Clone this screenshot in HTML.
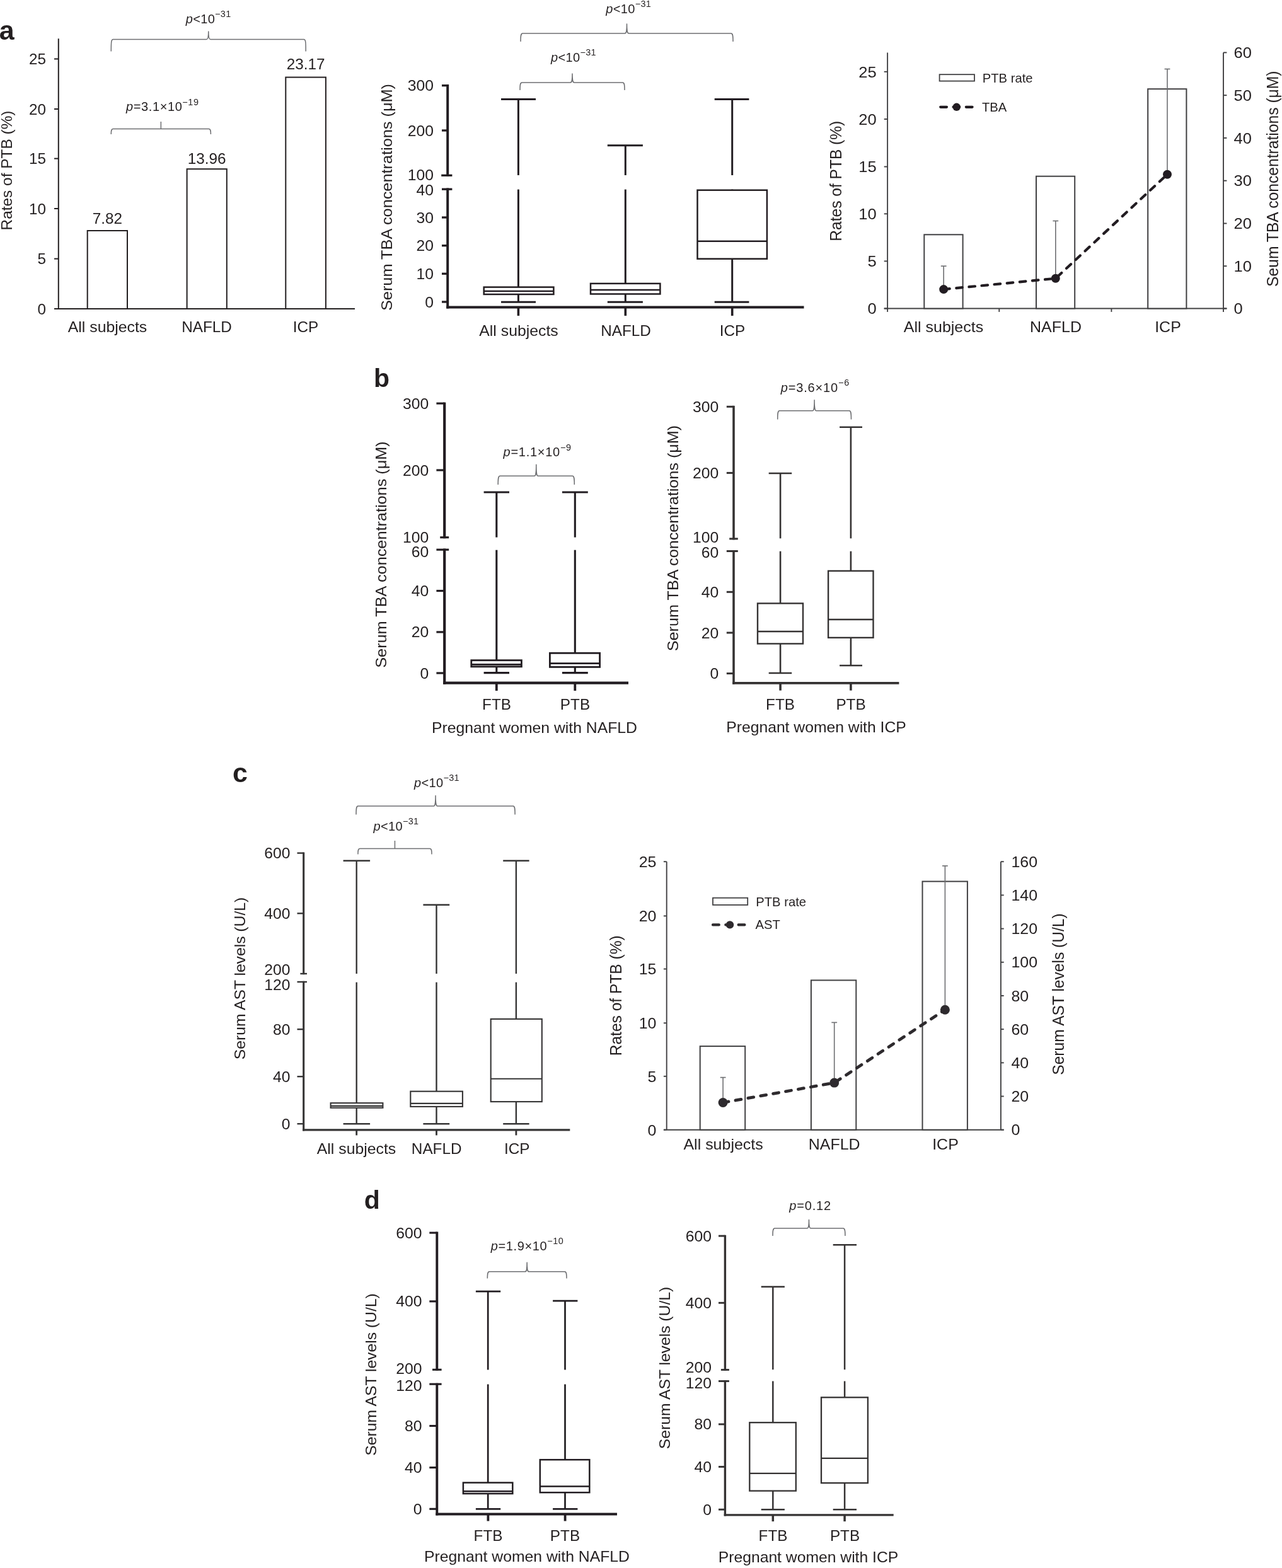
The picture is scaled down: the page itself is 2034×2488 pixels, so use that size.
<!DOCTYPE html>
<html lang="en">
<head>
<meta charset="utf-8">
<title>Figure</title>
<style>
html,body{margin:0;padding:0;background:#fff;}
body{width:2034px;height:2488px;overflow:hidden;}
svg{display:block;font-family:"Liberation Sans", sans-serif;}
</style>
</head>
<body>
<svg width="2034" height="2488" viewBox="0 0 2034 2488">
<defs><filter id="soft" x="0" y="0" width="2034" height="2488" filterUnits="userSpaceOnUse"><feGaussianBlur stdDeviation="0.45"/></filter></defs>
<text x="-1.3" y="62.5" font-size="43" text-anchor="start" font-weight="bold" font-style="normal" fill="#231f20">a</text>
<text x="593" y="613.7" font-size="41" text-anchor="start" font-weight="bold" font-style="normal" fill="#231f20">b</text>
<text x="369" y="1241.3" font-size="43" text-anchor="start" font-weight="bold" font-style="normal" fill="#231f20">c</text>
<text x="577.8" y="1917.7" font-size="41" text-anchor="start" font-weight="bold" font-style="normal" fill="#231f20">d</text>
<line x1="92.8" y1="61.3" x2="92.8" y2="491" stroke="#231f20" stroke-width="2" stroke-linecap="butt" />
<line x1="86" y1="490" x2="563" y2="490" stroke="#231f20" stroke-width="2" stroke-linecap="butt" />
<line x1="86" y1="93.5" x2="92.8" y2="93.5" stroke="#231f20" stroke-width="2" stroke-linecap="butt" />
<text x="73" y="102" font-size="24" text-anchor="end" font-weight="normal" font-style="normal" fill="#231f20" textLength="27.02" lengthAdjust="spacingAndGlyphs">25</text>
<line x1="86" y1="173" x2="92.8" y2="173" stroke="#231f20" stroke-width="2" stroke-linecap="butt" />
<text x="73" y="181.5" font-size="24" text-anchor="end" font-weight="normal" font-style="normal" fill="#231f20" textLength="27.02" lengthAdjust="spacingAndGlyphs">20</text>
<line x1="86" y1="251.6" x2="92.8" y2="251.6" stroke="#231f20" stroke-width="2" stroke-linecap="butt" />
<text x="73" y="260.1" font-size="24" text-anchor="end" font-weight="normal" font-style="normal" fill="#231f20" textLength="27.02" lengthAdjust="spacingAndGlyphs">15</text>
<line x1="86" y1="331" x2="92.8" y2="331" stroke="#231f20" stroke-width="2" stroke-linecap="butt" />
<text x="73" y="339.5" font-size="24" text-anchor="end" font-weight="normal" font-style="normal" fill="#231f20" textLength="27.02" lengthAdjust="spacingAndGlyphs">10</text>
<line x1="86" y1="410.6" x2="92.8" y2="410.6" stroke="#231f20" stroke-width="2" stroke-linecap="butt" />
<text x="73" y="419.1" font-size="24" text-anchor="end" font-weight="normal" font-style="normal" fill="#231f20" textLength="13.51" lengthAdjust="spacingAndGlyphs">5</text>
<line x1="86" y1="490" x2="92.8" y2="490" stroke="#231f20" stroke-width="2" stroke-linecap="butt" />
<text x="73" y="498.5" font-size="24" text-anchor="end" font-weight="normal" font-style="normal" fill="#231f20" textLength="13.51" lengthAdjust="spacingAndGlyphs">0</text>
<rect x="138.7" y="366" width="63.3" height="124" fill="none" stroke="#231f20" stroke-width="2"/>
<text x="170.35" y="354.6" font-size="24" text-anchor="middle" font-weight="normal" font-style="normal" fill="#231f20" textLength="47.27" lengthAdjust="spacingAndGlyphs">7.82</text>
<rect x="296.6" y="268.2" width="63.2" height="221.8" fill="none" stroke="#231f20" stroke-width="2"/>
<text x="328.2" y="260.3" font-size="24" text-anchor="middle" font-weight="normal" font-style="normal" fill="#231f20" textLength="60.78" lengthAdjust="spacingAndGlyphs">13.96</text>
<rect x="453.3" y="122.6" width="63.6" height="367.4" fill="none" stroke="#231f20" stroke-width="2"/>
<text x="485.1" y="109.7" font-size="24" text-anchor="middle" font-weight="normal" font-style="normal" fill="#231f20" textLength="60.78" lengthAdjust="spacingAndGlyphs">23.17</text>
<text x="170.5" y="526.8" font-size="24" text-anchor="middle" font-weight="normal" font-style="normal" fill="#231f20" textLength="125.39" lengthAdjust="spacingAndGlyphs">All subjects</text>
<text x="328" y="526.8" font-size="24" text-anchor="middle" font-weight="normal" font-style="normal" fill="#231f20" textLength="79.63" lengthAdjust="spacingAndGlyphs">NAFLD</text>
<text x="485" y="526.8" font-size="24" text-anchor="middle" font-weight="normal" font-style="normal" fill="#231f20" textLength="40.49" lengthAdjust="spacingAndGlyphs">ICP</text>
<text x="18.5" y="270.5" font-size="24" text-anchor="middle" font-weight="normal" font-style="normal" fill="#231f20" transform="rotate(-90 18.5 270.5)" textLength="190" lengthAdjust="spacingAndGlyphs">Rates of PTB (%)</text>
<path d="M176.3,81.5 C176.3,66.6 176.6,62.6 179.3,62.6 L327.75,62.6 C330.15,62.6 330.75,58.6 330.75,50.1 C330.75,58.6 331.35,62.6 333.75,62.6 L482.2,62.6 C484.9,62.6 485.2,66.6 485.2,81.5" fill="none" stroke="#6d6e71" stroke-width="1.5" stroke-linecap="butt" stroke-linejoin="round"/>
<text x="294.7" y="36.9" font-size="20" fill="#231f20" textLength="71.5" lengthAdjust="spacing"><tspan font-style="italic">p</tspan>&lt;10<tspan font-size="14.4" dy="-9.6">−31</tspan></text>
<path d="M176.3,213 C176.3,207.5 176.6,204.5 179.3,204.5 L331.4,204.5 C334.1,204.5 334.4,207.5 334.4,213 M255.35,204.5 L255.35,193" fill="none" stroke="#6d6e71" stroke-width="1.5" stroke-linecap="butt" stroke-linejoin="round"/>
<text x="200" y="176.3" font-size="20" fill="#231f20" textLength="115" lengthAdjust="spacing"><tspan font-style="italic">p</tspan>=3.1×10<tspan font-size="14.4" dy="-9.6">−19</tspan></text>
<text x="688" y="144.2" font-size="23.6" text-anchor="end" font-weight="normal" font-style="normal" fill="#231f20" textLength="41.25" lengthAdjust="spacingAndGlyphs">300</text>
<text x="688" y="215.5" font-size="23.6" text-anchor="end" font-weight="normal" font-style="normal" fill="#231f20" textLength="41.25" lengthAdjust="spacingAndGlyphs">200</text>
<text x="688" y="285.9" font-size="23.6" text-anchor="end" font-weight="normal" font-style="normal" fill="#231f20" textLength="41.25" lengthAdjust="spacingAndGlyphs">100</text>
<text x="688" y="309.7" font-size="23.6" text-anchor="end" font-weight="normal" font-style="normal" fill="#231f20" textLength="27.5" lengthAdjust="spacingAndGlyphs">40</text>
<text x="688" y="353.5" font-size="23.6" text-anchor="end" font-weight="normal" font-style="normal" fill="#231f20" textLength="27.5" lengthAdjust="spacingAndGlyphs">30</text>
<text x="688" y="398.2" font-size="23.6" text-anchor="end" font-weight="normal" font-style="normal" fill="#231f20" textLength="27.5" lengthAdjust="spacingAndGlyphs">20</text>
<text x="688" y="442.8" font-size="23.6" text-anchor="end" font-weight="normal" font-style="normal" fill="#231f20" textLength="27.5" lengthAdjust="spacingAndGlyphs">10</text>
<text x="688" y="487.5" font-size="23.6" text-anchor="end" font-weight="normal" font-style="normal" fill="#231f20" textLength="13.75" lengthAdjust="spacingAndGlyphs">0</text>
<text x="823" y="533" font-size="24" text-anchor="middle" font-weight="normal" font-style="normal" fill="#231f20" textLength="125.39" lengthAdjust="spacingAndGlyphs">All subjects</text>
<text x="993" y="533" font-size="24" text-anchor="middle" font-weight="normal" font-style="normal" fill="#231f20" textLength="79.63" lengthAdjust="spacingAndGlyphs">NAFLD</text>
<text x="1162" y="533" font-size="24" text-anchor="middle" font-weight="normal" font-style="normal" fill="#231f20" textLength="40.49" lengthAdjust="spacingAndGlyphs">ICP</text>
<text x="622.2" y="313" font-size="24" text-anchor="middle" font-weight="normal" font-style="normal" fill="#231f20" transform="rotate(-90 622.2 313)" textLength="360" lengthAdjust="spacingAndGlyphs">Serum TBA concentrations (μM)</text>
<path d="M826,66 C826,57 826.3,53 829,53 L991.5,53 C993.9,53 994.5,49 994.5,38 C994.5,49 995.1,53 997.5,53 L1160,53 C1162.7,53 1163,57 1163,66" fill="none" stroke="#6d6e71" stroke-width="1.5" stroke-linecap="butt" stroke-linejoin="round"/>
<text x="961.3" y="20.8" font-size="20" fill="#231f20" textLength="71.5" lengthAdjust="spacing"><tspan font-style="italic">p</tspan>&lt;10<tspan font-size="14.4" dy="-9.6">−31</tspan></text>
<path d="M825,143 C825,135 825.3,131 828,131 L905,131 C907.4,131 908,127 908,117 C908,127 908.6,131 911,131 L988,131 C990.7,131 991,135 991,143" fill="none" stroke="#6d6e71" stroke-width="1.5" stroke-linecap="butt" stroke-linejoin="round"/>
<text x="874.1" y="98" font-size="20" fill="#231f20" textLength="71.5" lengthAdjust="spacing"><tspan font-style="italic">p</tspan>&lt;10<tspan font-size="14.4" dy="-9.6">−31</tspan></text>
<text x="1390.8" y="122.6" font-size="24" text-anchor="end" font-weight="normal" font-style="normal" fill="#231f20" textLength="28.43" lengthAdjust="spacingAndGlyphs">25</text>
<text x="1390.8" y="197.8" font-size="24" text-anchor="end" font-weight="normal" font-style="normal" fill="#231f20" textLength="28.43" lengthAdjust="spacingAndGlyphs">20</text>
<text x="1390.8" y="273.3" font-size="24" text-anchor="end" font-weight="normal" font-style="normal" fill="#231f20" textLength="28.43" lengthAdjust="spacingAndGlyphs">15</text>
<text x="1390.8" y="348.1" font-size="24" text-anchor="end" font-weight="normal" font-style="normal" fill="#231f20" textLength="28.43" lengthAdjust="spacingAndGlyphs">10</text>
<text x="1390.8" y="423.2" font-size="24" text-anchor="end" font-weight="normal" font-style="normal" fill="#231f20" textLength="14.22" lengthAdjust="spacingAndGlyphs">5</text>
<text x="1390.8" y="498.3" font-size="24" text-anchor="end" font-weight="normal" font-style="normal" fill="#231f20" textLength="14.22" lengthAdjust="spacingAndGlyphs">0</text>
<text x="1957.5" y="92" font-size="24" text-anchor="start" font-weight="normal" font-style="normal" fill="#231f20" textLength="28.43" lengthAdjust="spacingAndGlyphs">60</text>
<text x="1957.5" y="159.8" font-size="24" text-anchor="start" font-weight="normal" font-style="normal" fill="#231f20" textLength="28.43" lengthAdjust="spacingAndGlyphs">50</text>
<text x="1957.5" y="227.5" font-size="24" text-anchor="start" font-weight="normal" font-style="normal" fill="#231f20" textLength="28.43" lengthAdjust="spacingAndGlyphs">40</text>
<text x="1957.5" y="295.3" font-size="24" text-anchor="start" font-weight="normal" font-style="normal" fill="#231f20" textLength="28.43" lengthAdjust="spacingAndGlyphs">30</text>
<text x="1957.5" y="363.1" font-size="24" text-anchor="start" font-weight="normal" font-style="normal" fill="#231f20" textLength="28.43" lengthAdjust="spacingAndGlyphs">20</text>
<text x="1957.5" y="430.8" font-size="24" text-anchor="start" font-weight="normal" font-style="normal" fill="#231f20" textLength="28.43" lengthAdjust="spacingAndGlyphs">10</text>
<text x="1957.5" y="498.1" font-size="24" text-anchor="start" font-weight="normal" font-style="normal" fill="#231f20" textLength="14.22" lengthAdjust="spacingAndGlyphs">0</text>
<text x="1558.8" y="130.5" font-size="21" text-anchor="start" font-weight="normal" font-style="normal" fill="#231f20" textLength="79.71" lengthAdjust="spacingAndGlyphs">PTB rate</text>
<text x="1558" y="176.8" font-size="21" text-anchor="start" font-weight="normal" font-style="normal" fill="#231f20" textLength="39.29" lengthAdjust="spacingAndGlyphs">TBA</text>
<text x="1497" y="527" font-size="24" text-anchor="middle" font-weight="normal" font-style="normal" fill="#231f20" textLength="126.24" lengthAdjust="spacingAndGlyphs">All subjects</text>
<text x="1675" y="527" font-size="24" text-anchor="middle" font-weight="normal" font-style="normal" fill="#231f20" textLength="81.83" lengthAdjust="spacingAndGlyphs">NAFLD</text>
<text x="1853" y="527" font-size="24" text-anchor="middle" font-weight="normal" font-style="normal" fill="#231f20" textLength="41.61" lengthAdjust="spacingAndGlyphs">ICP</text>
<text x="1335.1" y="287.2" font-size="25.4" text-anchor="middle" font-weight="normal" font-style="normal" fill="#231f20" transform="rotate(-90 1335.1 287.2)" textLength="191" lengthAdjust="spacingAndGlyphs">Rates of PTB (%)</text>
<text x="2028" y="283.7" font-size="25.4" text-anchor="middle" font-weight="normal" font-style="normal" fill="#231f20" transform="rotate(-90 2028 283.7)" textLength="342.5" lengthAdjust="spacingAndGlyphs">Seum TBA concentrations (μM)</text>
<text x="680.3" y="648.6" font-size="23.6" text-anchor="end" font-weight="normal" font-style="normal" fill="#231f20" textLength="41.25" lengthAdjust="spacingAndGlyphs">300</text>
<text x="680.3" y="754.5" font-size="23.6" text-anchor="end" font-weight="normal" font-style="normal" fill="#231f20" textLength="41.25" lengthAdjust="spacingAndGlyphs">200</text>
<text x="680.3" y="860.6" font-size="23.6" text-anchor="end" font-weight="normal" font-style="normal" fill="#231f20" textLength="41.25" lengthAdjust="spacingAndGlyphs">100</text>
<text x="680.3" y="884" font-size="23.6" text-anchor="end" font-weight="normal" font-style="normal" fill="#231f20" textLength="27.5" lengthAdjust="spacingAndGlyphs">60</text>
<text x="680.3" y="946" font-size="23.6" text-anchor="end" font-weight="normal" font-style="normal" fill="#231f20" textLength="27.5" lengthAdjust="spacingAndGlyphs">40</text>
<text x="680.3" y="1011.4" font-size="23.6" text-anchor="end" font-weight="normal" font-style="normal" fill="#231f20" textLength="27.5" lengthAdjust="spacingAndGlyphs">20</text>
<text x="680.3" y="1076.5" font-size="23.6" text-anchor="end" font-weight="normal" font-style="normal" fill="#231f20" textLength="13.75" lengthAdjust="spacingAndGlyphs">0</text>
<text x="788" y="1125.5" font-size="24" text-anchor="middle" font-weight="normal" font-style="normal" fill="#231f20" textLength="45.87" lengthAdjust="spacingAndGlyphs">FTB</text>
<text x="912.5" y="1125.5" font-size="24" text-anchor="middle" font-weight="normal" font-style="normal" fill="#231f20" textLength="47.24" lengthAdjust="spacingAndGlyphs">PTB</text>
<text x="848" y="1162.5" font-size="24" text-anchor="middle" font-weight="normal" font-style="normal" fill="#231f20" textLength="326" lengthAdjust="spacingAndGlyphs">Pregnant women with NAFLD</text>
<text x="613.3" y="880" font-size="24" text-anchor="middle" font-weight="normal" font-style="normal" fill="#231f20" transform="rotate(-90 613.3 880)" textLength="359.5" lengthAdjust="spacingAndGlyphs">Serum TBA concentrations (μM)</text>
<path d="M790.2,768.9 C790.2,759.3 790.5,755.3 793.2,755.3 L847.75,755.3 C850.15,755.3 850.75,751.3 850.75,737.2 C850.75,751.3 851.35,755.3 853.75,755.3 L908.3,755.3 C911,755.3 911.3,759.3 911.3,768.9" fill="none" stroke="#6d6e71" stroke-width="1.5" stroke-linecap="butt" stroke-linejoin="round"/>
<text x="798.6" y="724.2" font-size="20" fill="#231f20" textLength="107.5" lengthAdjust="spacing"><tspan font-style="italic">p</tspan>=1.1×10<tspan font-size="14.4" dy="-9.6">−9</tspan></text>
<text x="1140.2" y="653.8" font-size="23.6" text-anchor="end" font-weight="normal" font-style="normal" fill="#231f20" textLength="41.25" lengthAdjust="spacingAndGlyphs">300</text>
<text x="1140.2" y="758.9" font-size="23.6" text-anchor="end" font-weight="normal" font-style="normal" fill="#231f20" textLength="41.25" lengthAdjust="spacingAndGlyphs">200</text>
<text x="1140.2" y="860.8" font-size="23.6" text-anchor="end" font-weight="normal" font-style="normal" fill="#231f20" textLength="41.25" lengthAdjust="spacingAndGlyphs">100</text>
<text x="1140.2" y="884.9" font-size="23.6" text-anchor="end" font-weight="normal" font-style="normal" fill="#231f20" textLength="27.5" lengthAdjust="spacingAndGlyphs">60</text>
<text x="1140.2" y="947.8" font-size="23.6" text-anchor="end" font-weight="normal" font-style="normal" fill="#231f20" textLength="27.5" lengthAdjust="spacingAndGlyphs">40</text>
<text x="1140.2" y="1012.5" font-size="23.6" text-anchor="end" font-weight="normal" font-style="normal" fill="#231f20" textLength="27.5" lengthAdjust="spacingAndGlyphs">20</text>
<text x="1140.2" y="1077.1" font-size="23.6" text-anchor="end" font-weight="normal" font-style="normal" fill="#231f20" textLength="13.75" lengthAdjust="spacingAndGlyphs">0</text>
<text x="1238" y="1125.5" font-size="24" text-anchor="middle" font-weight="normal" font-style="normal" fill="#231f20" textLength="45.87" lengthAdjust="spacingAndGlyphs">FTB</text>
<text x="1350" y="1125.5" font-size="24" text-anchor="middle" font-weight="normal" font-style="normal" fill="#231f20" textLength="47.24" lengthAdjust="spacingAndGlyphs">PTB</text>
<text x="1295" y="1162" font-size="24" text-anchor="middle" font-weight="normal" font-style="normal" fill="#231f20" textLength="285.5" lengthAdjust="spacingAndGlyphs">Pregnant women with ICP</text>
<text x="1075.8" y="854" font-size="24" text-anchor="middle" font-weight="normal" font-style="normal" fill="#231f20" transform="rotate(-90 1075.8 854)" textLength="358.5" lengthAdjust="spacingAndGlyphs">Serum TBA concentrations (μM)</text>
<path d="M1233.7,665.5 C1233.7,655.7 1234,651.7 1236.7,651.7 L1289.1,651.7 C1291.5,651.7 1292.1,647.7 1292.1,634.8 C1292.1,647.7 1292.7,651.7 1295.1,651.7 L1347.5,651.7 C1350.2,651.7 1350.5,655.7 1350.5,665.5" fill="none" stroke="#6d6e71" stroke-width="1.5" stroke-linecap="butt" stroke-linejoin="round"/>
<text x="1238.7" y="621.7" font-size="20" fill="#231f20" textLength="108.5" lengthAdjust="spacing"><tspan font-style="italic">p</tspan>=3.6×10<tspan font-size="14.4" dy="-9.6">−6</tspan></text>
<text x="460.5" y="1362.1" font-size="23.6" text-anchor="end" font-weight="normal" font-style="normal" fill="#231f20" textLength="41.25" lengthAdjust="spacingAndGlyphs">600</text>
<text x="460.5" y="1457.8" font-size="23.6" text-anchor="end" font-weight="normal" font-style="normal" fill="#231f20" textLength="41.25" lengthAdjust="spacingAndGlyphs">400</text>
<text x="460.5" y="1546.6" font-size="23.6" text-anchor="end" font-weight="normal" font-style="normal" fill="#231f20" textLength="41.25" lengthAdjust="spacingAndGlyphs">200</text>
<text x="460.5" y="1570.7" font-size="23.6" text-anchor="end" font-weight="normal" font-style="normal" fill="#231f20" textLength="41.25" lengthAdjust="spacingAndGlyphs">120</text>
<text x="460.5" y="1641.7" font-size="23.6" text-anchor="end" font-weight="normal" font-style="normal" fill="#231f20" textLength="27.5" lengthAdjust="spacingAndGlyphs">80</text>
<text x="460.5" y="1716.7" font-size="23.6" text-anchor="end" font-weight="normal" font-style="normal" fill="#231f20" textLength="27.5" lengthAdjust="spacingAndGlyphs">40</text>
<text x="460.5" y="1791.7" font-size="23.6" text-anchor="end" font-weight="normal" font-style="normal" fill="#231f20" textLength="13.75" lengthAdjust="spacingAndGlyphs">0</text>
<text x="565.5" y="1831" font-size="24" text-anchor="middle" font-weight="normal" font-style="normal" fill="#231f20" textLength="125.39" lengthAdjust="spacingAndGlyphs">All subjects</text>
<text x="692.7" y="1831" font-size="24" text-anchor="middle" font-weight="normal" font-style="normal" fill="#231f20" textLength="79.63" lengthAdjust="spacingAndGlyphs">NAFLD</text>
<text x="820.3" y="1831" font-size="24" text-anchor="middle" font-weight="normal" font-style="normal" fill="#231f20" textLength="40.49" lengthAdjust="spacingAndGlyphs">ICP</text>
<text x="388.5" y="1552.5" font-size="24" text-anchor="middle" font-weight="normal" font-style="normal" fill="#231f20" transform="rotate(-90 388.5 1552.5)" textLength="257.5" lengthAdjust="spacingAndGlyphs">Serum AST levels (U/L)</text>
<path d="M565,1292.5 C565,1282.9 565.3,1278.9 568,1278.9 L688.05,1278.9 C690.45,1278.9 691.05,1274.9 691.05,1262.5 C691.05,1274.9 691.65,1278.9 694.05,1278.9 L814.1,1278.9 C816.8,1278.9 817.1,1282.9 817.1,1292.5" fill="none" stroke="#6d6e71" stroke-width="1.5" stroke-linecap="butt" stroke-linejoin="round"/>
<text x="657.1" y="1248.9" font-size="20" fill="#231f20" textLength="71.5" lengthAdjust="spacing"><tspan font-style="italic">p</tspan>&lt;10<tspan font-size="14.4" dy="-9.6">−31</tspan></text>
<path d="M567.9,1355.4 C567.9,1349.4 568.2,1346.4 570.9,1346.4 L682,1346.4 C684.7,1346.4 685,1349.4 685,1355.4 M626.45,1346.4 L626.45,1333.9" fill="none" stroke="#6d6e71" stroke-width="1.5" stroke-linecap="butt" stroke-linejoin="round"/>
<text x="592.5" y="1317.9" font-size="20" fill="#231f20" textLength="71.5" lengthAdjust="spacing"><tspan font-style="italic">p</tspan>&lt;10<tspan font-size="14.4" dy="-9.6">−31</tspan></text>
<text x="1041.5" y="1376" font-size="24" text-anchor="end" font-weight="normal" font-style="normal" fill="#231f20" textLength="27.76" lengthAdjust="spacingAndGlyphs">25</text>
<text x="1041.5" y="1462.2" font-size="24" text-anchor="end" font-weight="normal" font-style="normal" fill="#231f20" textLength="27.76" lengthAdjust="spacingAndGlyphs">20</text>
<text x="1041.5" y="1546.3" font-size="24" text-anchor="end" font-weight="normal" font-style="normal" fill="#231f20" textLength="27.76" lengthAdjust="spacingAndGlyphs">15</text>
<text x="1041.5" y="1632.1" font-size="24" text-anchor="end" font-weight="normal" font-style="normal" fill="#231f20" textLength="27.76" lengthAdjust="spacingAndGlyphs">10</text>
<text x="1041.5" y="1716.6" font-size="24" text-anchor="end" font-weight="normal" font-style="normal" fill="#231f20" textLength="13.88" lengthAdjust="spacingAndGlyphs">5</text>
<text x="1041.5" y="1801.5" font-size="24" text-anchor="end" font-weight="normal" font-style="normal" fill="#231f20" textLength="13.88" lengthAdjust="spacingAndGlyphs">0</text>
<text x="1604.4" y="1375.8" font-size="24" text-anchor="start" font-weight="normal" font-style="normal" fill="#231f20" textLength="41.65" lengthAdjust="spacingAndGlyphs">160</text>
<text x="1604.4" y="1428.99" font-size="24" text-anchor="start" font-weight="normal" font-style="normal" fill="#231f20" textLength="41.65" lengthAdjust="spacingAndGlyphs">140</text>
<text x="1604.4" y="1482.18" font-size="24" text-anchor="start" font-weight="normal" font-style="normal" fill="#231f20" textLength="41.65" lengthAdjust="spacingAndGlyphs">120</text>
<text x="1604.4" y="1535.37" font-size="24" text-anchor="start" font-weight="normal" font-style="normal" fill="#231f20" textLength="41.65" lengthAdjust="spacingAndGlyphs">100</text>
<text x="1604.4" y="1588.56" font-size="24" text-anchor="start" font-weight="normal" font-style="normal" fill="#231f20" textLength="27.76" lengthAdjust="spacingAndGlyphs">80</text>
<text x="1604.4" y="1641.75" font-size="24" text-anchor="start" font-weight="normal" font-style="normal" fill="#231f20" textLength="27.76" lengthAdjust="spacingAndGlyphs">60</text>
<text x="1604.4" y="1694.94" font-size="24" text-anchor="start" font-weight="normal" font-style="normal" fill="#231f20" textLength="27.76" lengthAdjust="spacingAndGlyphs">40</text>
<text x="1604.4" y="1748.13" font-size="24" text-anchor="start" font-weight="normal" font-style="normal" fill="#231f20" textLength="27.76" lengthAdjust="spacingAndGlyphs">20</text>
<text x="1604.4" y="1801.32" font-size="24" text-anchor="start" font-weight="normal" font-style="normal" fill="#231f20" textLength="13.88" lengthAdjust="spacingAndGlyphs">0</text>
<text x="1199.3" y="1437.7" font-size="21" text-anchor="start" font-weight="normal" font-style="normal" fill="#231f20" textLength="79.71" lengthAdjust="spacingAndGlyphs">PTB rate</text>
<text x="1198.5" y="1474.1" font-size="21" text-anchor="start" font-weight="normal" font-style="normal" fill="#231f20" textLength="39.29" lengthAdjust="spacingAndGlyphs">AST</text>
<text x="1147.6" y="1824.1" font-size="24" text-anchor="middle" font-weight="normal" font-style="normal" fill="#231f20" textLength="126.24" lengthAdjust="spacingAndGlyphs">All subjects</text>
<text x="1323.7" y="1824.1" font-size="24" text-anchor="middle" font-weight="normal" font-style="normal" fill="#231f20" textLength="81.83" lengthAdjust="spacingAndGlyphs">NAFLD</text>
<text x="1500" y="1824.1" font-size="24" text-anchor="middle" font-weight="normal" font-style="normal" fill="#231f20" textLength="41.61" lengthAdjust="spacingAndGlyphs">ICP</text>
<text x="985.6" y="1579.8" font-size="25.4" text-anchor="middle" font-weight="normal" font-style="normal" fill="#231f20" transform="rotate(-90 985.6 1579.8)" textLength="191" lengthAdjust="spacingAndGlyphs">Rates of PTB (%)</text>
<text x="1687.8" y="1577.5" font-size="25.4" text-anchor="middle" font-weight="normal" font-style="normal" fill="#231f20" transform="rotate(-90 1687.8 1577.5)" textLength="256.5" lengthAdjust="spacingAndGlyphs">Serum AST levels (U/L)</text>
<text x="669.5" y="1964.6" font-size="23.6" text-anchor="end" font-weight="normal" font-style="normal" fill="#231f20" textLength="41.25" lengthAdjust="spacingAndGlyphs">600</text>
<text x="669.5" y="2073.4" font-size="23.6" text-anchor="end" font-weight="normal" font-style="normal" fill="#231f20" textLength="41.25" lengthAdjust="spacingAndGlyphs">400</text>
<text x="669.5" y="2180.1" font-size="23.6" text-anchor="end" font-weight="normal" font-style="normal" fill="#231f20" textLength="41.25" lengthAdjust="spacingAndGlyphs">200</text>
<text x="669.5" y="2206.7" font-size="23.6" text-anchor="end" font-weight="normal" font-style="normal" fill="#231f20" textLength="41.25" lengthAdjust="spacingAndGlyphs">120</text>
<text x="669.5" y="2271" font-size="23.6" text-anchor="end" font-weight="normal" font-style="normal" fill="#231f20" textLength="27.5" lengthAdjust="spacingAndGlyphs">80</text>
<text x="669.5" y="2337.1" font-size="23.6" text-anchor="end" font-weight="normal" font-style="normal" fill="#231f20" textLength="27.5" lengthAdjust="spacingAndGlyphs">40</text>
<text x="669.5" y="2402.8" font-size="23.6" text-anchor="end" font-weight="normal" font-style="normal" fill="#231f20" textLength="13.75" lengthAdjust="spacingAndGlyphs">0</text>
<text x="774.5" y="2444.6" font-size="24" text-anchor="middle" font-weight="normal" font-style="normal" fill="#231f20" textLength="45.87" lengthAdjust="spacingAndGlyphs">FTB</text>
<text x="896.5" y="2444.6" font-size="24" text-anchor="middle" font-weight="normal" font-style="normal" fill="#231f20" textLength="47.24" lengthAdjust="spacingAndGlyphs">PTB</text>
<text x="836" y="2478.3" font-size="24" text-anchor="middle" font-weight="normal" font-style="normal" fill="#231f20" textLength="326" lengthAdjust="spacingAndGlyphs">Pregnant women with NAFLD</text>
<text x="597" y="2181" font-size="24" text-anchor="middle" font-weight="normal" font-style="normal" fill="#231f20" transform="rotate(-90 597 2181)" textLength="257.5" lengthAdjust="spacingAndGlyphs">Serum AST levels (U/L)</text>
<path d="M773.3,2028.6 C773.3,2021.8 773.6,2017.8 776.3,2017.8 L833.15,2017.8 C835.55,2017.8 836.15,2013.8 836.15,2003.3 C836.15,2013.8 836.75,2017.8 839.15,2017.8 L896,2017.8 C898.7,2017.8 899,2021.8 899,2028.6" fill="none" stroke="#6d6e71" stroke-width="1.5" stroke-linecap="butt" stroke-linejoin="round"/>
<text x="778.8" y="1984" font-size="20" fill="#231f20" textLength="115" lengthAdjust="spacing"><tspan font-style="italic">p</tspan>=1.9×10<tspan font-size="14.4" dy="-9.6">−10</tspan></text>
<text x="1129" y="1969.6" font-size="23.6" text-anchor="end" font-weight="normal" font-style="normal" fill="#231f20" textLength="41.25" lengthAdjust="spacingAndGlyphs">600</text>
<text x="1129" y="2075.8" font-size="23.6" text-anchor="end" font-weight="normal" font-style="normal" fill="#231f20" textLength="41.25" lengthAdjust="spacingAndGlyphs">400</text>
<text x="1129" y="2177.5" font-size="23.6" text-anchor="end" font-weight="normal" font-style="normal" fill="#231f20" textLength="41.25" lengthAdjust="spacingAndGlyphs">200</text>
<text x="1129" y="2202.5" font-size="23.6" text-anchor="end" font-weight="normal" font-style="normal" fill="#231f20" textLength="41.25" lengthAdjust="spacingAndGlyphs">120</text>
<text x="1129" y="2268.4" font-size="23.6" text-anchor="end" font-weight="normal" font-style="normal" fill="#231f20" textLength="27.5" lengthAdjust="spacingAndGlyphs">80</text>
<text x="1129" y="2335.9" font-size="23.6" text-anchor="end" font-weight="normal" font-style="normal" fill="#231f20" textLength="27.5" lengthAdjust="spacingAndGlyphs">40</text>
<text x="1129" y="2403.7" font-size="23.6" text-anchor="end" font-weight="normal" font-style="normal" fill="#231f20" textLength="13.75" lengthAdjust="spacingAndGlyphs">0</text>
<text x="1226.5" y="2444.6" font-size="24" text-anchor="middle" font-weight="normal" font-style="normal" fill="#231f20" textLength="45.87" lengthAdjust="spacingAndGlyphs">FTB</text>
<text x="1340.5" y="2444.6" font-size="24" text-anchor="middle" font-weight="normal" font-style="normal" fill="#231f20" textLength="47.24" lengthAdjust="spacingAndGlyphs">PTB</text>
<text x="1282.5" y="2479" font-size="24" text-anchor="middle" font-weight="normal" font-style="normal" fill="#231f20" textLength="285.5" lengthAdjust="spacingAndGlyphs">Pregnant women with ICP</text>
<text x="1063" y="2170.5" font-size="24" text-anchor="middle" font-weight="normal" font-style="normal" fill="#231f20" transform="rotate(-90 1063 2170.5)" textLength="257.5" lengthAdjust="spacingAndGlyphs">Serum AST levels (U/L)</text>
<path d="M1226,1961.1 C1226,1953.1 1226.3,1949.1 1229,1949.1 L1280.45,1949.1 C1282.85,1949.1 1283.45,1945.1 1283.45,1935.5 C1283.45,1945.1 1284.05,1949.1 1286.45,1949.1 L1337.9,1949.1 C1340.6,1949.1 1340.9,1953.1 1340.9,1961.1" fill="none" stroke="#6d6e71" stroke-width="1.5" stroke-linecap="butt" stroke-linejoin="round"/>
<text x="1252.2" y="1920" font-size="20" fill="#231f20" textLength="66" lengthAdjust="spacing"><tspan font-style="italic">p</tspan>=0.12</text>
<g filter="url(#soft)">
<line x1="710.2" y1="134.05" x2="710.2" y2="279.95" stroke="#231f20" stroke-width="4" stroke-linecap="butt" />
<line x1="710.2" y1="298.55" x2="710.2" y2="489.4" stroke="#231f20" stroke-width="4" stroke-linecap="butt" />
<line x1="708.2" y1="487.4" x2="1275.5" y2="487.4" stroke="#231f20" stroke-width="4" stroke-linecap="butt" />
<line x1="701" y1="135.7" x2="710.2" y2="135.7" stroke="#231f20" stroke-width="3.3" stroke-linecap="butt" />
<line x1="701" y1="207" x2="710.2" y2="207" stroke="#231f20" stroke-width="3.3" stroke-linecap="butt" />
<line x1="700.2" y1="278.3" x2="717.4" y2="278.3" stroke="#231f20" stroke-width="3.3" stroke-linecap="butt" />
<line x1="701" y1="300.2" x2="717.4" y2="300.2" stroke="#231f20" stroke-width="3.3" stroke-linecap="butt" />
<line x1="701" y1="345" x2="710.2" y2="345" stroke="#231f20" stroke-width="3.3" stroke-linecap="butt" />
<line x1="701" y1="389.7" x2="710.2" y2="389.7" stroke="#231f20" stroke-width="3.3" stroke-linecap="butt" />
<line x1="701" y1="434.3" x2="710.2" y2="434.3" stroke="#231f20" stroke-width="3.3" stroke-linecap="butt" />
<line x1="701" y1="479" x2="710.2" y2="479" stroke="#231f20" stroke-width="3.3" stroke-linecap="butt" />
<line x1="822.4" y1="487.4" x2="822.4" y2="501" stroke="#231f20" stroke-width="3.6" stroke-linecap="butt" />
<line x1="992.3" y1="487.4" x2="992.3" y2="501" stroke="#231f20" stroke-width="3.6" stroke-linecap="butt" />
<line x1="1161.7" y1="487.4" x2="1161.7" y2="501" stroke="#231f20" stroke-width="3.6" stroke-linecap="butt" />
<line x1="822.4" y1="157.6" x2="822.4" y2="278" stroke="#231f20" stroke-width="3" stroke-linecap="butt" />
<line x1="822.4" y1="300.6" x2="822.4" y2="455.6" stroke="#231f20" stroke-width="3" stroke-linecap="butt" />
<line x1="822.4" y1="467" x2="822.4" y2="479.3" stroke="#231f20" stroke-width="3" stroke-linecap="butt" />
<line x1="795" y1="157.6" x2="850" y2="157.6" stroke="#231f20" stroke-width="3" stroke-linecap="butt" />
<line x1="795" y1="479.3" x2="850" y2="479.3" stroke="#231f20" stroke-width="3" stroke-linecap="butt" />
<rect x="767.7" y="455.6" width="110.7" height="11.4" fill="#fff" stroke="#231f20" stroke-width="2.5"/>
<line x1="767.7" y1="462" x2="878.4" y2="462" stroke="#231f20" stroke-width="2.5" stroke-linecap="butt" />
<line x1="992.3" y1="230.7" x2="992.3" y2="278" stroke="#231f20" stroke-width="3" stroke-linecap="butt" />
<line x1="992.3" y1="300.6" x2="992.3" y2="449.9" stroke="#231f20" stroke-width="3" stroke-linecap="butt" />
<line x1="992.3" y1="466.5" x2="992.3" y2="479.3" stroke="#231f20" stroke-width="3" stroke-linecap="butt" />
<line x1="963.8" y1="230.7" x2="1019.9" y2="230.7" stroke="#231f20" stroke-width="3" stroke-linecap="butt" />
<line x1="963.8" y1="479.3" x2="1019.9" y2="479.3" stroke="#231f20" stroke-width="3" stroke-linecap="butt" />
<rect x="937" y="449.9" width="110.4" height="16.6" fill="#fff" stroke="#231f20" stroke-width="2.5"/>
<line x1="937" y1="460" x2="1047.4" y2="460" stroke="#231f20" stroke-width="2.5" stroke-linecap="butt" />
<line x1="1161.7" y1="157.6" x2="1161.7" y2="278" stroke="#231f20" stroke-width="3" stroke-linecap="butt" />
<line x1="1161.7" y1="300.6" x2="1161.7" y2="301.7" stroke="#231f20" stroke-width="3" stroke-linecap="butt" />
<line x1="1161.7" y1="410.7" x2="1161.7" y2="479.3" stroke="#231f20" stroke-width="3" stroke-linecap="butt" />
<line x1="1133.7" y1="157.6" x2="1188.4" y2="157.6" stroke="#231f20" stroke-width="3" stroke-linecap="butt" />
<line x1="1133.7" y1="479.3" x2="1188.4" y2="479.3" stroke="#231f20" stroke-width="3" stroke-linecap="butt" />
<rect x="1106.5" y="301.7" width="110.4" height="109" fill="#fff" stroke="#231f20" stroke-width="2.5"/>
<line x1="1106.5" y1="382.7" x2="1216.9" y2="382.7" stroke="#231f20" stroke-width="2.5" stroke-linecap="butt" />
<line x1="1408.1" y1="83.4" x2="1408.1" y2="489.5" stroke="#414042" stroke-width="1.9" stroke-linecap="butt" />
<line x1="1941" y1="83.4" x2="1941" y2="489.5" stroke="#414042" stroke-width="1.9" stroke-linecap="butt" />
<line x1="1402.7" y1="489.5" x2="1946.4" y2="489.5" stroke="#414042" stroke-width="1.9" stroke-linecap="butt" />
<line x1="1402.7" y1="113.8" x2="1408.1" y2="113.8" stroke="#414042" stroke-width="1.9" stroke-linecap="butt" />
<line x1="1402.7" y1="189" x2="1408.1" y2="189" stroke="#414042" stroke-width="1.9" stroke-linecap="butt" />
<line x1="1402.7" y1="264.5" x2="1408.1" y2="264.5" stroke="#414042" stroke-width="1.9" stroke-linecap="butt" />
<line x1="1402.7" y1="339.3" x2="1408.1" y2="339.3" stroke="#414042" stroke-width="1.9" stroke-linecap="butt" />
<line x1="1402.7" y1="414.4" x2="1408.1" y2="414.4" stroke="#414042" stroke-width="1.9" stroke-linecap="butt" />
<line x1="1402.7" y1="489.5" x2="1408.1" y2="489.5" stroke="#414042" stroke-width="1.9" stroke-linecap="butt" />
<line x1="1941" y1="83.4" x2="1946.4" y2="83.4" stroke="#414042" stroke-width="1.9" stroke-linecap="butt" />
<line x1="1941" y1="151.2" x2="1946.4" y2="151.2" stroke="#414042" stroke-width="1.9" stroke-linecap="butt" />
<line x1="1941" y1="218.9" x2="1946.4" y2="218.9" stroke="#414042" stroke-width="1.9" stroke-linecap="butt" />
<line x1="1941" y1="286.7" x2="1946.4" y2="286.7" stroke="#414042" stroke-width="1.9" stroke-linecap="butt" />
<line x1="1941" y1="354.5" x2="1946.4" y2="354.5" stroke="#414042" stroke-width="1.9" stroke-linecap="butt" />
<line x1="1941" y1="422.2" x2="1946.4" y2="422.2" stroke="#414042" stroke-width="1.9" stroke-linecap="butt" />
<line x1="1941" y1="489.5" x2="1946.4" y2="489.5" stroke="#414042" stroke-width="1.9" stroke-linecap="butt" />
<line x1="1408.1" y1="489.5" x2="1408.1" y2="494.9" stroke="#414042" stroke-width="1.9" stroke-linecap="butt" />
<line x1="1585.3" y1="489.5" x2="1585.3" y2="494.9" stroke="#414042" stroke-width="1.9" stroke-linecap="butt" />
<line x1="1763.4" y1="489.5" x2="1763.4" y2="494.9" stroke="#414042" stroke-width="1.9" stroke-linecap="butt" />
<line x1="1941" y1="489.5" x2="1941" y2="494.9" stroke="#414042" stroke-width="1.9" stroke-linecap="butt" />
<rect x="1466.3" y="372.3" width="61.3" height="117.2" fill="#fff" stroke="#414042" stroke-width="2"/>
<rect x="1644" y="279.7" width="61.2" height="209.8" fill="#fff" stroke="#414042" stroke-width="2"/>
<rect x="1821.2" y="141.2" width="61.2" height="348.3" fill="#fff" stroke="#414042" stroke-width="2"/>
<line x1="1497.2" y1="422.2" x2="1497.2" y2="459.1" stroke="#6d6e71" stroke-width="1.6" stroke-linecap="butt" />
<line x1="1492.8" y1="422.2" x2="1501.6" y2="422.2" stroke="#6d6e71" stroke-width="1.6" stroke-linecap="butt" />
<line x1="1674.8" y1="350.5" x2="1674.8" y2="441.8" stroke="#6d6e71" stroke-width="1.6" stroke-linecap="butt" />
<line x1="1670.4" y1="350.5" x2="1679.2" y2="350.5" stroke="#6d6e71" stroke-width="1.6" stroke-linecap="butt" />
<line x1="1852" y1="109.5" x2="1852" y2="276.7" stroke="#6d6e71" stroke-width="1.6" stroke-linecap="butt" />
<line x1="1847.6" y1="109.5" x2="1856.4" y2="109.5" stroke="#6d6e71" stroke-width="1.6" stroke-linecap="butt" />
<path d="M1497.2,459.1 L1674.8,441.8 L1852,276.7" fill="none" stroke="#231f20" stroke-width="4.2" stroke-dasharray="9.6 10.6" stroke-linejoin="round" stroke-linecap="round"/>
<circle cx="1497.2" cy="459.1" r="7" fill="#231f20"/>
<circle cx="1674.8" cy="441.8" r="7" fill="#231f20"/>
<circle cx="1852" cy="276.7" r="7" fill="#231f20"/>
<rect x="1490.6" y="118.2" width="55.4" height="10.4" fill="none" stroke="#414042" stroke-width="1.8"/>
<line x1="1492.2" y1="169.8" x2="1545" y2="169.8" stroke="#231f20" stroke-width="4.2" stroke-linecap="round" stroke-dasharray="9.8 10.5"/>
<circle cx="1517.7" cy="169.8" r="6.2" fill="#231f20"/>
<line x1="705.2" y1="638.5" x2="705.2" y2="854.3" stroke="#231f20" stroke-width="4.2" stroke-linecap="butt" />
<line x1="705.2" y1="870.6" x2="705.2" y2="1085.7" stroke="#231f20" stroke-width="4.2" stroke-linecap="butt" />
<line x1="703.1" y1="1083.6" x2="997" y2="1083.6" stroke="#231f20" stroke-width="4.2" stroke-linecap="butt" />
<line x1="692.4" y1="640.1" x2="705.2" y2="640.1" stroke="#231f20" stroke-width="3.2" stroke-linecap="butt" />
<line x1="692.4" y1="746" x2="705.2" y2="746" stroke="#231f20" stroke-width="3.2" stroke-linecap="butt" />
<line x1="698.2" y1="852.7" x2="712.2" y2="852.7" stroke="#231f20" stroke-width="3.2" stroke-linecap="butt" />
<line x1="692.4" y1="872.2" x2="712.2" y2="872.2" stroke="#231f20" stroke-width="3.2" stroke-linecap="butt" />
<line x1="692.4" y1="937.5" x2="705.2" y2="937.5" stroke="#231f20" stroke-width="3.2" stroke-linecap="butt" />
<line x1="692.4" y1="1002.9" x2="705.2" y2="1002.9" stroke="#231f20" stroke-width="3.2" stroke-linecap="butt" />
<line x1="692.4" y1="1068" x2="705.2" y2="1068" stroke="#231f20" stroke-width="3.2" stroke-linecap="butt" />
<line x1="787.8" y1="1083.6" x2="787.8" y2="1096" stroke="#231f20" stroke-width="3.8" stroke-linecap="butt" />
<line x1="912.3" y1="1083.6" x2="912.3" y2="1096" stroke="#231f20" stroke-width="3.8" stroke-linecap="butt" />
<line x1="787.8" y1="781" x2="787.8" y2="852.6" stroke="#231f20" stroke-width="3.1" stroke-linecap="butt" />
<line x1="787.8" y1="872.7" x2="787.8" y2="1047.7" stroke="#231f20" stroke-width="3.1" stroke-linecap="butt" />
<line x1="787.8" y1="1057.8" x2="787.8" y2="1067.6" stroke="#231f20" stroke-width="3.1" stroke-linecap="butt" />
<line x1="767.6" y1="781" x2="808" y2="781" stroke="#231f20" stroke-width="3.1" stroke-linecap="butt" />
<line x1="767.6" y1="1067.6" x2="808" y2="1067.6" stroke="#231f20" stroke-width="3.1" stroke-linecap="butt" />
<rect x="747.8" y="1047.7" width="79.6" height="10.1" fill="#fff" stroke="#231f20" stroke-width="2.8"/>
<line x1="747.8" y1="1054.3" x2="827.4" y2="1054.3" stroke="#231f20" stroke-width="2.8" stroke-linecap="butt" />
<line x1="912.3" y1="781" x2="912.3" y2="852.6" stroke="#231f20" stroke-width="3.1" stroke-linecap="butt" />
<line x1="912.3" y1="872.7" x2="912.3" y2="1036.3" stroke="#231f20" stroke-width="3.1" stroke-linecap="butt" />
<line x1="912.3" y1="1058.4" x2="912.3" y2="1067.6" stroke="#231f20" stroke-width="3.1" stroke-linecap="butt" />
<line x1="891.9" y1="781" x2="932.8" y2="781" stroke="#231f20" stroke-width="3.1" stroke-linecap="butt" />
<line x1="891.9" y1="1067.6" x2="932.8" y2="1067.6" stroke="#231f20" stroke-width="3.1" stroke-linecap="butt" />
<rect x="872.4" y="1036.3" width="79.2" height="22.1" fill="#fff" stroke="#231f20" stroke-width="2.8"/>
<line x1="872.4" y1="1052.7" x2="951.6" y2="1052.7" stroke="#231f20" stroke-width="2.8" stroke-linecap="butt" />
<line x1="1164" y1="643.8" x2="1164" y2="856.4" stroke="#343233" stroke-width="3.6" stroke-linecap="butt" />
<line x1="1164" y1="873" x2="1164" y2="1085.7" stroke="#343233" stroke-width="3.6" stroke-linecap="butt" />
<line x1="1162.2" y1="1083.9" x2="1426.4" y2="1083.9" stroke="#343233" stroke-width="3.6" stroke-linecap="butt" />
<line x1="1152.8" y1="645.3" x2="1164" y2="645.3" stroke="#343233" stroke-width="3" stroke-linecap="butt" />
<line x1="1152.8" y1="750.4" x2="1164" y2="750.4" stroke="#343233" stroke-width="3" stroke-linecap="butt" />
<line x1="1157.2" y1="854.9" x2="1170.8" y2="854.9" stroke="#343233" stroke-width="3" stroke-linecap="butt" />
<line x1="1152.8" y1="874.5" x2="1170.8" y2="874.5" stroke="#343233" stroke-width="3" stroke-linecap="butt" />
<line x1="1152.8" y1="939.3" x2="1164" y2="939.3" stroke="#343233" stroke-width="3" stroke-linecap="butt" />
<line x1="1152.8" y1="1004" x2="1164" y2="1004" stroke="#343233" stroke-width="3" stroke-linecap="butt" />
<line x1="1152.8" y1="1068.6" x2="1164" y2="1068.6" stroke="#343233" stroke-width="3" stroke-linecap="butt" />
<line x1="1238.1" y1="1083.9" x2="1238.1" y2="1095.6" stroke="#343233" stroke-width="3.6" stroke-linecap="butt" />
<line x1="1349.9" y1="1083.9" x2="1349.9" y2="1095.6" stroke="#343233" stroke-width="3.6" stroke-linecap="butt" />
<line x1="1238.1" y1="751" x2="1238.1" y2="854.3" stroke="#343233" stroke-width="2.6" stroke-linecap="butt" />
<line x1="1238.1" y1="874.7" x2="1238.1" y2="957.4" stroke="#343233" stroke-width="2.6" stroke-linecap="butt" />
<line x1="1238.1" y1="1021.4" x2="1238.1" y2="1068" stroke="#343233" stroke-width="2.6" stroke-linecap="butt" />
<line x1="1219.7" y1="751" x2="1256.2" y2="751" stroke="#343233" stroke-width="2.6" stroke-linecap="butt" />
<line x1="1219.7" y1="1068" x2="1256.2" y2="1068" stroke="#343233" stroke-width="2.6" stroke-linecap="butt" />
<rect x="1202" y="957.4" width="72" height="64" fill="#fff" stroke="#343233" stroke-width="2.4"/>
<line x1="1202" y1="1002" x2="1274" y2="1002" stroke="#343233" stroke-width="2.4" stroke-linecap="butt" />
<line x1="1349.9" y1="677.7" x2="1349.9" y2="854.3" stroke="#343233" stroke-width="2.6" stroke-linecap="butt" />
<line x1="1349.9" y1="874.7" x2="1349.9" y2="905.9" stroke="#343233" stroke-width="2.6" stroke-linecap="butt" />
<line x1="1349.9" y1="1011.8" x2="1349.9" y2="1056" stroke="#343233" stroke-width="2.6" stroke-linecap="butt" />
<line x1="1332.1" y1="677.7" x2="1368" y2="677.7" stroke="#343233" stroke-width="2.6" stroke-linecap="butt" />
<line x1="1332.1" y1="1056" x2="1368" y2="1056" stroke="#343233" stroke-width="2.6" stroke-linecap="butt" />
<rect x="1314.1" y="905.9" width="71.4" height="105.9" fill="#fff" stroke="#343233" stroke-width="2.4"/>
<line x1="1314.1" y1="983" x2="1385.5" y2="983" stroke="#343233" stroke-width="2.4" stroke-linecap="butt" />
<line x1="481.7" y1="1352.4" x2="481.7" y2="1546.2" stroke="#363435" stroke-width="3.1" stroke-linecap="butt" />
<line x1="481.7" y1="1556.8" x2="481.7" y2="1794.45" stroke="#363435" stroke-width="3.1" stroke-linecap="butt" />
<line x1="480.15" y1="1792.9" x2="904.3" y2="1792.9" stroke="#363435" stroke-width="3.1" stroke-linecap="butt" />
<line x1="471.5" y1="1353.6" x2="481.7" y2="1353.6" stroke="#363435" stroke-width="2.4" stroke-linecap="butt" />
<line x1="471.5" y1="1449.3" x2="481.7" y2="1449.3" stroke="#363435" stroke-width="2.4" stroke-linecap="butt" />
<line x1="476.4" y1="1545" x2="487" y2="1545" stroke="#363435" stroke-width="2.4" stroke-linecap="butt" />
<line x1="471.5" y1="1558" x2="487" y2="1558" stroke="#363435" stroke-width="2.4" stroke-linecap="butt" />
<line x1="471.5" y1="1633.2" x2="481.7" y2="1633.2" stroke="#363435" stroke-width="2.4" stroke-linecap="butt" />
<line x1="471.5" y1="1708.2" x2="481.7" y2="1708.2" stroke="#363435" stroke-width="2.4" stroke-linecap="butt" />
<line x1="471.5" y1="1783.2" x2="481.7" y2="1783.2" stroke="#363435" stroke-width="2.4" stroke-linecap="butt" />
<line x1="565.7" y1="1792.9" x2="565.7" y2="1801.4" stroke="#363435" stroke-width="2.8" stroke-linecap="butt" />
<line x1="692.5" y1="1792.9" x2="692.5" y2="1801.4" stroke="#363435" stroke-width="2.8" stroke-linecap="butt" />
<line x1="818.9" y1="1792.9" x2="818.9" y2="1801.4" stroke="#363435" stroke-width="2.8" stroke-linecap="butt" />
<line x1="565.7" y1="1365.7" x2="565.7" y2="1545" stroke="#363435" stroke-width="2.4" stroke-linecap="butt" />
<line x1="565.7" y1="1558.6" x2="565.7" y2="1750.2" stroke="#363435" stroke-width="2.4" stroke-linecap="butt" />
<line x1="565.7" y1="1757.8" x2="565.7" y2="1783.2" stroke="#363435" stroke-width="2.4" stroke-linecap="butt" />
<line x1="544.6" y1="1365.7" x2="587.1" y2="1365.7" stroke="#363435" stroke-width="2.4" stroke-linecap="butt" />
<line x1="544.6" y1="1783.2" x2="587.1" y2="1783.2" stroke="#363435" stroke-width="2.4" stroke-linecap="butt" />
<rect x="524.6" y="1750.2" width="82.8" height="7.6" fill="#fff" stroke="#363435" stroke-width="2.1"/>
<line x1="524.6" y1="1754.9" x2="607.4" y2="1754.9" stroke="#363435" stroke-width="2.1" stroke-linecap="butt" />
<line x1="692.5" y1="1435.7" x2="692.5" y2="1545" stroke="#363435" stroke-width="2.4" stroke-linecap="butt" />
<line x1="692.5" y1="1558.6" x2="692.5" y2="1731.7" stroke="#363435" stroke-width="2.4" stroke-linecap="butt" />
<line x1="692.5" y1="1755.9" x2="692.5" y2="1783.2" stroke="#363435" stroke-width="2.4" stroke-linecap="butt" />
<line x1="671.4" y1="1435.7" x2="713.2" y2="1435.7" stroke="#363435" stroke-width="2.4" stroke-linecap="butt" />
<line x1="671.4" y1="1783.2" x2="713.2" y2="1783.2" stroke="#363435" stroke-width="2.4" stroke-linecap="butt" />
<rect x="651.3" y="1731.7" width="82.6" height="24.2" fill="#fff" stroke="#363435" stroke-width="2.1"/>
<line x1="651.3" y1="1750.9" x2="733.9" y2="1750.9" stroke="#363435" stroke-width="2.1" stroke-linecap="butt" />
<line x1="818.9" y1="1365.7" x2="818.9" y2="1545" stroke="#363435" stroke-width="2.4" stroke-linecap="butt" />
<line x1="818.9" y1="1558.6" x2="818.9" y2="1616.9" stroke="#363435" stroke-width="2.4" stroke-linecap="butt" />
<line x1="818.9" y1="1748.1" x2="818.9" y2="1783.2" stroke="#363435" stroke-width="2.4" stroke-linecap="butt" />
<line x1="798.2" y1="1365.7" x2="839.6" y2="1365.7" stroke="#363435" stroke-width="2.4" stroke-linecap="butt" />
<line x1="798.2" y1="1783.2" x2="839.6" y2="1783.2" stroke="#363435" stroke-width="2.4" stroke-linecap="butt" />
<rect x="778.7" y="1616.9" width="81.1" height="131.2" fill="#fff" stroke="#363435" stroke-width="2.1"/>
<line x1="778.7" y1="1711.8" x2="859.8" y2="1711.8" stroke="#363435" stroke-width="2.1" stroke-linecap="butt" />
<line x1="1057.7" y1="1367.2" x2="1057.7" y2="1792.7" stroke="#414042" stroke-width="1.9" stroke-linecap="butt" />
<line x1="1587.9" y1="1367.2" x2="1587.9" y2="1792.7" stroke="#414042" stroke-width="1.9" stroke-linecap="butt" />
<line x1="1052.9" y1="1792.7" x2="1592.7" y2="1792.7" stroke="#414042" stroke-width="1.9" stroke-linecap="butt" />
<line x1="1052.9" y1="1367.2" x2="1057.7" y2="1367.2" stroke="#414042" stroke-width="1.9" stroke-linecap="butt" />
<line x1="1052.9" y1="1453.4" x2="1057.7" y2="1453.4" stroke="#414042" stroke-width="1.9" stroke-linecap="butt" />
<line x1="1052.9" y1="1537.5" x2="1057.7" y2="1537.5" stroke="#414042" stroke-width="1.9" stroke-linecap="butt" />
<line x1="1052.9" y1="1623.3" x2="1057.7" y2="1623.3" stroke="#414042" stroke-width="1.9" stroke-linecap="butt" />
<line x1="1052.9" y1="1707.8" x2="1057.7" y2="1707.8" stroke="#414042" stroke-width="1.9" stroke-linecap="butt" />
<line x1="1052.9" y1="1792.7" x2="1057.7" y2="1792.7" stroke="#414042" stroke-width="1.9" stroke-linecap="butt" />
<line x1="1587.9" y1="1367.2" x2="1592.7" y2="1367.2" stroke="#414042" stroke-width="1.9" stroke-linecap="butt" />
<line x1="1587.9" y1="1420.39" x2="1592.7" y2="1420.39" stroke="#414042" stroke-width="1.9" stroke-linecap="butt" />
<line x1="1587.9" y1="1473.58" x2="1592.7" y2="1473.58" stroke="#414042" stroke-width="1.9" stroke-linecap="butt" />
<line x1="1587.9" y1="1526.77" x2="1592.7" y2="1526.77" stroke="#414042" stroke-width="1.9" stroke-linecap="butt" />
<line x1="1587.9" y1="1579.96" x2="1592.7" y2="1579.96" stroke="#414042" stroke-width="1.9" stroke-linecap="butt" />
<line x1="1587.9" y1="1633.15" x2="1592.7" y2="1633.15" stroke="#414042" stroke-width="1.9" stroke-linecap="butt" />
<line x1="1587.9" y1="1686.34" x2="1592.7" y2="1686.34" stroke="#414042" stroke-width="1.9" stroke-linecap="butt" />
<line x1="1587.9" y1="1739.53" x2="1592.7" y2="1739.53" stroke="#414042" stroke-width="1.9" stroke-linecap="butt" />
<line x1="1587.9" y1="1792.72" x2="1592.7" y2="1792.72" stroke="#414042" stroke-width="1.9" stroke-linecap="butt" />
<rect x="1110.7" y="1660.1" width="71.5" height="132.6" fill="#fff" stroke="#414042" stroke-width="2"/>
<rect x="1286.9" y="1555.4" width="71.4" height="237.3" fill="#fff" stroke="#414042" stroke-width="2"/>
<rect x="1463.5" y="1398.6" width="71.4" height="394.1" fill="#fff" stroke="#414042" stroke-width="2"/>
<line x1="1147.1" y1="1709.6" x2="1147.1" y2="1749.5" stroke="#6d6e71" stroke-width="1.6" stroke-linecap="butt" />
<line x1="1142.7" y1="1709.6" x2="1151.5" y2="1709.6" stroke="#6d6e71" stroke-width="1.6" stroke-linecap="butt" />
<line x1="1323.7" y1="1622.4" x2="1323.7" y2="1718.1" stroke="#6d6e71" stroke-width="1.6" stroke-linecap="butt" />
<line x1="1319.3" y1="1622.4" x2="1328.1" y2="1622.4" stroke="#6d6e71" stroke-width="1.6" stroke-linecap="butt" />
<line x1="1499.4" y1="1373.9" x2="1499.4" y2="1602.2" stroke="#6d6e71" stroke-width="1.6" stroke-linecap="butt" />
<line x1="1495" y1="1373.9" x2="1503.8" y2="1373.9" stroke="#6d6e71" stroke-width="1.6" stroke-linecap="butt" />
<path d="M1147.1,1749.5 L1323.7,1718.1 L1499.4,1602.2" fill="none" stroke="#2e2c2d" stroke-width="4.8" stroke-dasharray="9 11.2" stroke-linejoin="round" stroke-linecap="round"/>
<circle cx="1147.1" cy="1749.5" r="7.5" fill="#2e2c2d"/>
<circle cx="1323.7" cy="1718.1" r="7.5" fill="#2e2c2d"/>
<circle cx="1499.4" cy="1602.2" r="7.5" fill="#2e2c2d"/>
<rect x="1131" y="1424.7" width="55.2" height="11.2" fill="none" stroke="#414042" stroke-width="1.8"/>
<line x1="1131" y1="1467.4" x2="1185.2" y2="1467.4" stroke="#2e2c2d" stroke-width="4.2" stroke-linecap="round" stroke-dasharray="9.8 10.5"/>
<circle cx="1158" cy="1467.4" r="6.2" fill="#2e2c2d"/>
<line x1="693.3" y1="1954.55" x2="693.3" y2="2174.85" stroke="#231f20" stroke-width="3.9" stroke-linecap="butt" />
<line x1="693.3" y1="2194.65" x2="693.3" y2="2404.45" stroke="#231f20" stroke-width="3.9" stroke-linecap="butt" />
<line x1="691.35" y1="2402.5" x2="979" y2="2402.5" stroke="#231f20" stroke-width="3.9" stroke-linecap="butt" />
<line x1="681.3" y1="1956.1" x2="693.3" y2="1956.1" stroke="#231f20" stroke-width="3.1" stroke-linecap="butt" />
<line x1="681.3" y1="2064.9" x2="693.3" y2="2064.9" stroke="#231f20" stroke-width="3.1" stroke-linecap="butt" />
<line x1="686" y1="2173.3" x2="700.6" y2="2173.3" stroke="#231f20" stroke-width="3.1" stroke-linecap="butt" />
<line x1="681.3" y1="2196.2" x2="700.6" y2="2196.2" stroke="#231f20" stroke-width="3.1" stroke-linecap="butt" />
<line x1="681.3" y1="2262.5" x2="693.3" y2="2262.5" stroke="#231f20" stroke-width="3.1" stroke-linecap="butt" />
<line x1="681.3" y1="2328.6" x2="693.3" y2="2328.6" stroke="#231f20" stroke-width="3.1" stroke-linecap="butt" />
<line x1="681.3" y1="2394.3" x2="693.3" y2="2394.3" stroke="#231f20" stroke-width="3.1" stroke-linecap="butt" />
<line x1="774.4" y1="2402.5" x2="774.4" y2="2413.5" stroke="#231f20" stroke-width="3.8" stroke-linecap="butt" />
<line x1="896.6" y1="2402.5" x2="896.6" y2="2413.5" stroke="#231f20" stroke-width="3.8" stroke-linecap="butt" />
<line x1="774.2" y1="2049.2" x2="774.2" y2="2173.5" stroke="#231f20" stroke-width="2.7" stroke-linecap="butt" />
<line x1="774.2" y1="2196.5" x2="774.2" y2="2352.6" stroke="#231f20" stroke-width="2.7" stroke-linecap="butt" />
<line x1="774.2" y1="2370" x2="774.2" y2="2394.3" stroke="#231f20" stroke-width="2.7" stroke-linecap="butt" />
<line x1="754.9" y1="2049.2" x2="794.2" y2="2049.2" stroke="#231f20" stroke-width="2.7" stroke-linecap="butt" />
<line x1="754.9" y1="2394.3" x2="794.2" y2="2394.3" stroke="#231f20" stroke-width="2.7" stroke-linecap="butt" />
<rect x="734.9" y="2352.6" width="78.4" height="17.4" fill="#fff" stroke="#231f20" stroke-width="2.5"/>
<line x1="734.9" y1="2366.3" x2="813.3" y2="2366.3" stroke="#231f20" stroke-width="2.5" stroke-linecap="butt" />
<line x1="896.5" y1="2064.1" x2="896.5" y2="2173.5" stroke="#231f20" stroke-width="2.7" stroke-linecap="butt" />
<line x1="896.5" y1="2196.5" x2="896.5" y2="2316.2" stroke="#231f20" stroke-width="2.7" stroke-linecap="butt" />
<line x1="896.5" y1="2368.2" x2="896.5" y2="2394.3" stroke="#231f20" stroke-width="2.7" stroke-linecap="butt" />
<line x1="877.1" y1="2064.1" x2="916.4" y2="2064.1" stroke="#231f20" stroke-width="2.7" stroke-linecap="butt" />
<line x1="877.1" y1="2394.3" x2="916.4" y2="2394.3" stroke="#231f20" stroke-width="2.7" stroke-linecap="butt" />
<rect x="856.8" y="2316.2" width="78.5" height="52" fill="#fff" stroke="#231f20" stroke-width="2.5"/>
<line x1="856.8" y1="2358.5" x2="935.3" y2="2358.5" stroke="#231f20" stroke-width="2.5" stroke-linecap="butt" />
<line x1="1150.4" y1="1959.65" x2="1150.4" y2="2174.95" stroke="#343233" stroke-width="3.4" stroke-linecap="butt" />
<line x1="1150.4" y1="2190.05" x2="1150.4" y2="2405.6" stroke="#343233" stroke-width="3.4" stroke-linecap="butt" />
<line x1="1148.7" y1="2403.9" x2="1417.7" y2="2403.9" stroke="#343233" stroke-width="3.4" stroke-linecap="butt" />
<line x1="1140" y1="1961.1" x2="1150.4" y2="1961.1" stroke="#343233" stroke-width="2.9" stroke-linecap="butt" />
<line x1="1140" y1="2067.3" x2="1150.4" y2="2067.3" stroke="#343233" stroke-width="2.9" stroke-linecap="butt" />
<line x1="1143.9" y1="2173.5" x2="1156.9" y2="2173.5" stroke="#343233" stroke-width="2.9" stroke-linecap="butt" />
<line x1="1140" y1="2191.5" x2="1156.9" y2="2191.5" stroke="#343233" stroke-width="2.9" stroke-linecap="butt" />
<line x1="1140" y1="2259.9" x2="1150.4" y2="2259.9" stroke="#343233" stroke-width="2.9" stroke-linecap="butt" />
<line x1="1140" y1="2327.4" x2="1150.4" y2="2327.4" stroke="#343233" stroke-width="2.9" stroke-linecap="butt" />
<line x1="1140" y1="2395.2" x2="1150.4" y2="2395.2" stroke="#343233" stroke-width="2.9" stroke-linecap="butt" />
<line x1="1226.3" y1="2403.9" x2="1226.3" y2="2414.1" stroke="#343233" stroke-width="3.5" stroke-linecap="butt" />
<line x1="1340.1" y1="2403.9" x2="1340.1" y2="2414.1" stroke="#343233" stroke-width="3.5" stroke-linecap="butt" />
<line x1="1226.3" y1="2041.7" x2="1226.3" y2="2173.2" stroke="#343233" stroke-width="2.5" stroke-linecap="butt" />
<line x1="1226.3" y1="2191.5" x2="1226.3" y2="2257.2" stroke="#343233" stroke-width="2.5" stroke-linecap="butt" />
<line x1="1226.3" y1="2365.6" x2="1226.3" y2="2395.2" stroke="#343233" stroke-width="2.5" stroke-linecap="butt" />
<line x1="1207.7" y1="2041.7" x2="1244.9" y2="2041.7" stroke="#343233" stroke-width="2.5" stroke-linecap="butt" />
<line x1="1207.7" y1="2395.2" x2="1244.9" y2="2395.2" stroke="#343233" stroke-width="2.5" stroke-linecap="butt" />
<rect x="1189.3" y="2257.2" width="73.5" height="108.4" fill="#fff" stroke="#343233" stroke-width="2.3"/>
<line x1="1189.3" y1="2337.8" x2="1262.8" y2="2337.8" stroke="#343233" stroke-width="2.3" stroke-linecap="butt" />
<line x1="1340.1" y1="1975.3" x2="1340.1" y2="2173.2" stroke="#343233" stroke-width="2.5" stroke-linecap="butt" />
<line x1="1340.1" y1="2191.5" x2="1340.1" y2="2217.3" stroke="#343233" stroke-width="2.5" stroke-linecap="butt" />
<line x1="1340.1" y1="2353.1" x2="1340.1" y2="2395.2" stroke="#343233" stroke-width="2.5" stroke-linecap="butt" />
<line x1="1321.7" y1="1975.3" x2="1359" y2="1975.3" stroke="#343233" stroke-width="2.5" stroke-linecap="butt" />
<line x1="1321.7" y1="2395.2" x2="1359" y2="2395.2" stroke="#343233" stroke-width="2.5" stroke-linecap="butt" />
<rect x="1303" y="2217.3" width="73.9" height="135.8" fill="#fff" stroke="#343233" stroke-width="2.3"/>
<line x1="1303" y1="2313.9" x2="1376.9" y2="2313.9" stroke="#343233" stroke-width="2.3" stroke-linecap="butt" />
</g>
</svg>
</body>
</html>
